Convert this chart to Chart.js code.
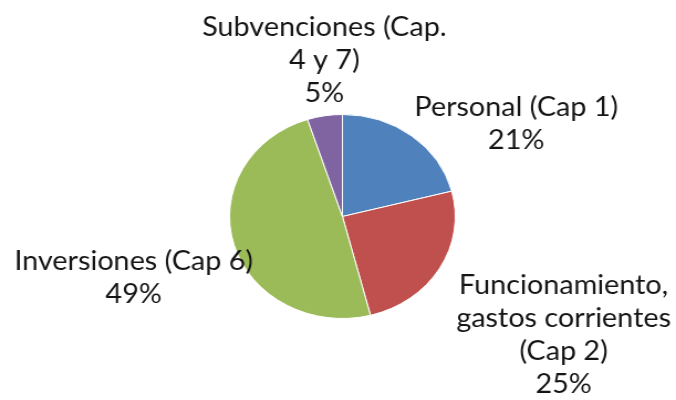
<!DOCTYPE html>
<html>
<head>
<meta charset="utf-8">
<script src="https://cdn.jsdelivr.net/npm/chart.js@4"></script>
<style>
  html, body { margin: 0; padding: 0; background: #fff; }
  #pie { display: block; }
</style>
</head>
<body>
<!-- the original pie is a bit wider than tall, so the canvas is stretched -->
<canvas id="pie" width="611" height="400" style="width:676px;height:400px"></canvas>
<script>
// ============================== DATA ==============================
const categories = [
    ["Personal (Cap 1)"],
    ["Funcionamiento,", "gastos corrientes", "(Cap 2)"],
    ["Inversiones (Cap 6)"],
    ["Subvenciones (Cap.", "4 y 7)"]
];
const shares = [21, 25, 49, 5];
const colors = ["#4F81BD", "#C0504D", "#9BBB59", "#8064A2"];

// label block centres, in pie radii from the pie centre
const labelOffsets = [
    [1.54, -0.91],
    [1.96, 1.16],
    [-1.85, 0.60],
    [-0.16, -1.53]
];

// ============================== LABELS PLUGIN ==============================
const outsideLabels = {
    id: "outsideLabels",
    afterDatasetsDraw(chart) {
        const ctx = chart.ctx;
        const meta = chart.getDatasetMeta(0);
        const total = shares.reduce((a, b) => a + b, 0);
        const lineH = 33;
        ctx.save();
        ctx.font = "26px Lato";
        ctx.fillStyle = "#151515";
        ctx.textAlign = "center";
        ctx.textBaseline = "middle";
        meta.data.forEach((arc, i) => {
            const r = arc.outerRadius;
            const cx = arc.x + labelOffsets[i][0] * r;
            const cy = arc.y + labelOffsets[i][1] * r;
            const lines = categories[i].concat([Math.round(shares[i] / total * 100) + "%"]);
            const top = cy - (lines.length - 1) * lineH / 2;
            lines.forEach((txt, k) => ctx.fillText(txt, cx, top + k * lineH));
        });
        ctx.restore();
    }
};

// ============================== CHART ==============================
window.addEventListener('DOMContentLoaded', () => {
    const ctx = document.getElementById("pie").getContext("2d");
    new Chart(ctx, {
        type: "pie",
        data: {
            labels: categories.map(c => c.join(" ")),
            datasets: [{ data: shares, backgroundColor: colors, borderColor: "#fff", borderWidth: 1 }]
        },
        options: {
            responsive: false,
            animation: false,
            layout: { padding: { top: 114, bottom: 81, left: 207, right: 199 } },
            plugins: { legend: { display: false }, tooltip: { enabled: false } }
        },
        plugins: [outsideLabels]
    });
});
</script>
</body>
</html>
